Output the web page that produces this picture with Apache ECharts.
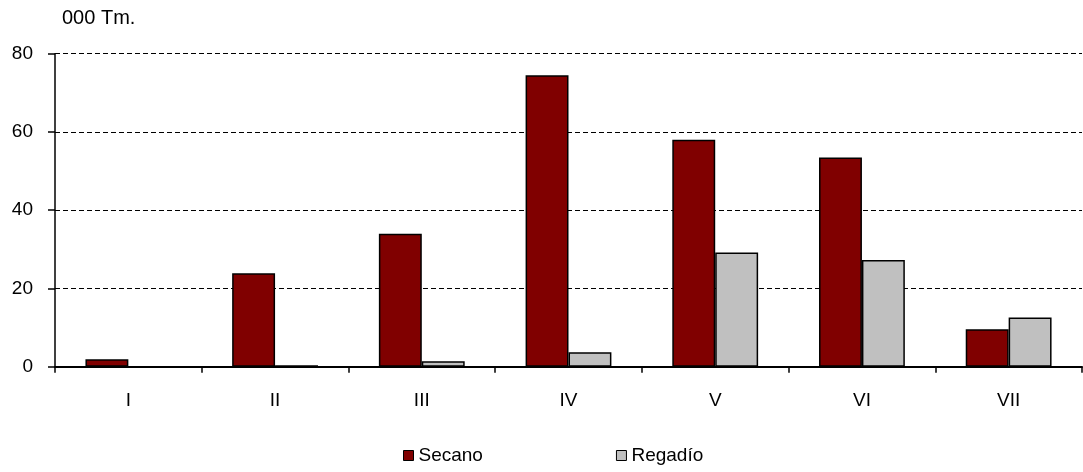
<!DOCTYPE html>
<html>
<head>
<meta charset="utf-8">
<script src="https://cdn.jsdelivr.net/npm/echarts@6/dist/echarts.min.js"></script>
<style>
html,body{margin:0;padding:0;background:#fff;}
#chart{width:1083px;height:472px;}
</style>
</head>
<body>
<div id="chart"></div>
<script>
const categories = ['I','II','III','IV','V','VI','VII'];
const secano = [1.9, 23.9, 34.0, 74.5, 58.0, 53.5, 9.6];
const regadio = [0, 0.4, 1.4, 3.7, 29.2, 27.3, 12.6];
const yTicks = [0, 20, 40, 60, 80];

const font = 'Arial, "Liberation Sans", sans-serif';
const chart = echarts.init(document.getElementById('chart'), null, {renderer:'canvas'});
chart.setOption({
  animation: false,
  backgroundColor: '#ffffff',
  textStyle: {fontFamily: font, color: '#000'},
  graphic: [{
    type: 'text', left: 62, top: 8,
    style: {text: '000 Tm.', fontFamily: font, fontSize: 20, fill: '#000'}
  }],
  legend: {
    bottom: 2, left: 398,
    itemWidth: 10, itemHeight: 10, itemGap: 133,
    icon: 'rect',
    textStyle: {fontFamily: font, fontSize: 19, color: '#000'},
    itemStyle: {borderColor: '#000', borderWidth: 1},
    data: ['Secano', 'Regadío']
  },
  grid: {left: 55, right: 1, top: 53.7, bottom: 105.3},
  xAxis: {
    type: 'category',
    data: categories,
    axisLine: {show: true, lineStyle: {color: '#000', width: 2}},
    axisTick: {show: true, length: 6, lineStyle: {color: '#000', width: 1.5}},
    axisLabel: {fontFamily: font, fontSize: 19, color: '#000', margin: 25},
    splitLine: {show: false}
  },
  yAxis: {
    type: 'value',
    min: yTicks[0], max: yTicks[yTicks.length-1], interval: 20,
    axisLine: {show: true, lineStyle: {color: '#000', width: 1.5}},
    axisTick: {show: true, length: 7, lineStyle: {color: '#000', width: 1.5}},
    axisLabel: {fontFamily: font, fontSize: 19, color: '#000', margin: 22},
    splitLine: {show: true, lineStyle: {color: '#000', width: 1.2, type: [5, 3]}}
  },
  series: [
    {
      name: 'Secano', type: 'bar', data: secano,
      barGap: '0%', barCategoryGap: '41.5%',
      itemStyle: {color: '#800000', borderColor: '#000', borderWidth: 1.5}
    },
    {
      name: 'Regadío', type: 'bar', data: regadio,
      itemStyle: {color: '#C0C0C0', borderColor: '#000', borderWidth: 1.5}
    }
  ]
});
</script>
</body>
</html>
